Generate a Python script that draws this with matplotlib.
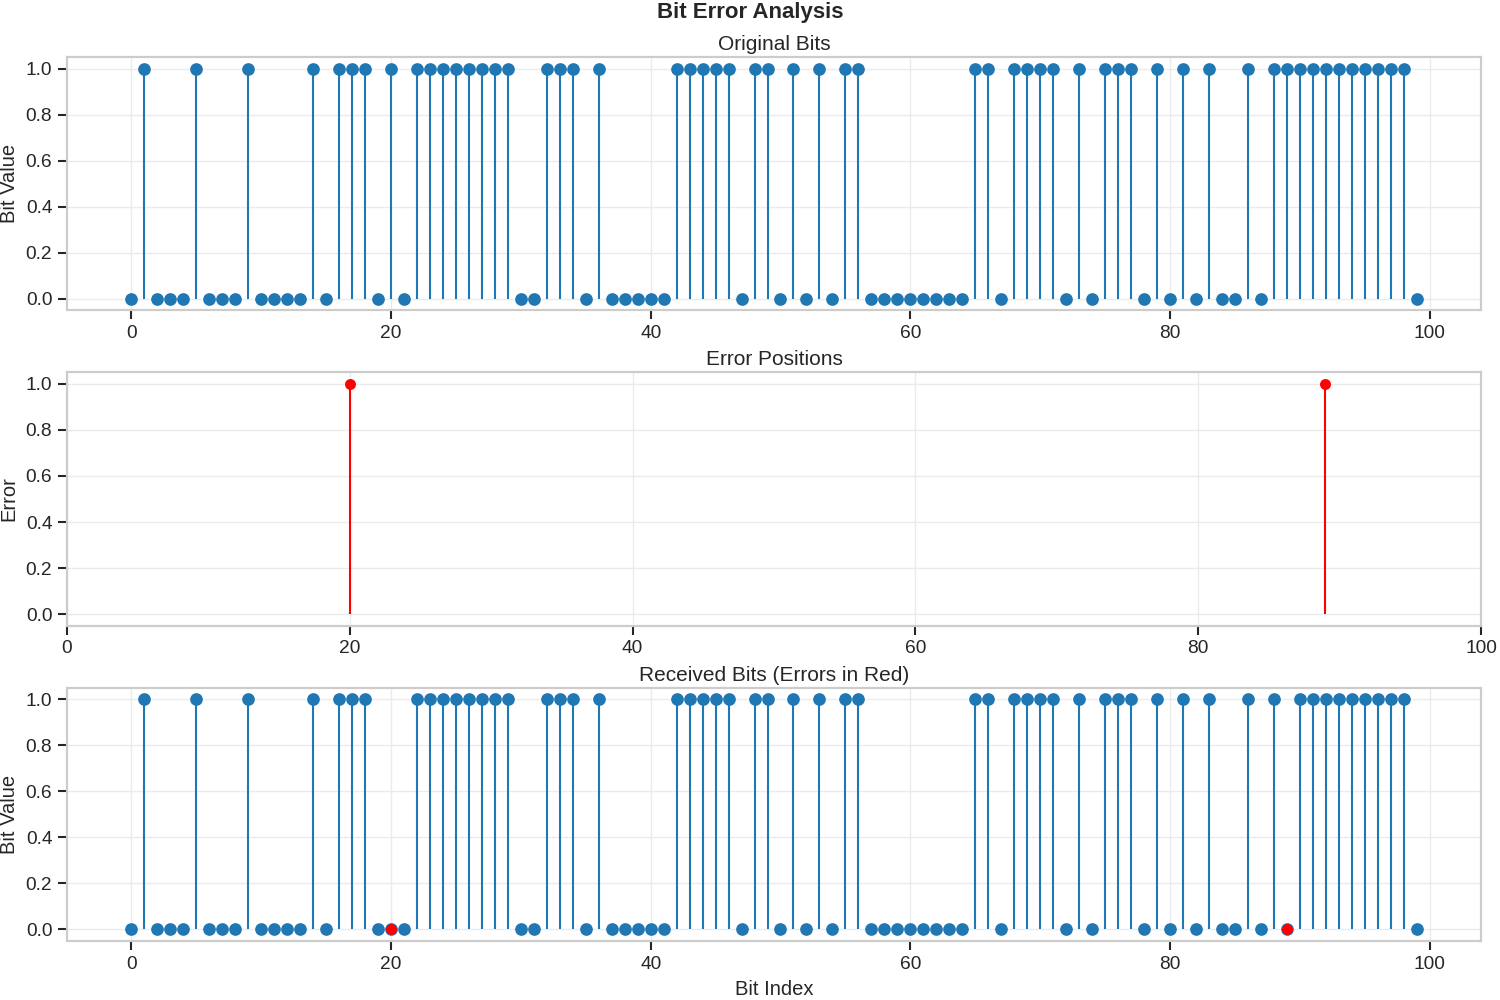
import matplotlib
matplotlib.use("Agg")
import matplotlib.pyplot as plt
import numpy as np

# ---- data ----
original_bits = [0, 1, 0, 0, 0, 1, 0, 0, 0, 1,
                 0, 0, 0, 0, 1, 0, 1, 1, 1, 0,
                 1, 0, 1, 1, 1, 1, 1, 1, 1, 1,
                 0, 0, 1, 1, 1, 0, 1, 0, 0, 0,
                 0, 0, 1, 1, 1, 1, 1, 0, 1, 1,
                 0, 1, 0, 1, 0, 1, 1, 0, 0, 0,
                 0, 0, 0, 0, 0, 1, 1, 0, 1, 1,
                 1, 1, 0, 1, 0, 1, 1, 1, 0, 1,
                 0, 1, 0, 1, 0, 0, 1, 0, 1, 1,
                 1, 1, 1, 1, 1, 1, 1, 1, 1, 0]
error_positions = [20, 89]
error_values = [1, 1]

original = np.array(original_bits)
received = original.copy()
received[error_positions] = 1 - received[error_positions]
indices = np.arange(len(original))

plt.rcParams.update({
    "font.family": ["Liberation Sans", "DejaVu Sans"],
    "axes.edgecolor": "#cccccc",
    "axes.linewidth": 1.25,
    "axes.labelcolor": "#262626",
    "axes.labelsize": 11.6,
    "axes.titlesize": 12,
    "xtick.labelsize": 11,
    "ytick.labelsize": 11,
    "xtick.color": "#262626",
    "ytick.color": "#262626",
    "text.color": "#262626",
    "xtick.major.size": 5,
    "ytick.major.size": 5,
    "xtick.major.width": 1.2,
    "ytick.major.width": 1.2,
    "grid.color": "#ebebeb",
    "grid.linewidth": 0.8,
})

fig, axes = plt.subplots(3, 1, figsize=(12, 8), dpi=125)
fig.subplots_adjust(left=0.0447, right=0.9873, top=0.943, bottom=0.059, hspace=0.245)
blue = "#1f77b4"

# Original bits
ax = axes[0]
ml, sl, bl = ax.stem(indices, original, basefmt=" ")
plt.setp(sl, linewidth=1.2, color=blue)
plt.setp(ml, color=blue, markersize=6.3)
ax.set_title("Original Bits", pad=4)
ax.set_ylabel("Bit Value")
ax.grid(True)

# Error positions
ax = axes[1]
ml, sl, bl = ax.stem(error_positions, error_values, linefmt="r-", markerfmt="ro", basefmt=" ")
plt.setp(sl, linewidth=1.2)
plt.setp(ml, markersize=5.3)
ax.set_title("Error Positions", pad=4)
ax.set_ylabel("Error")
ax.set_xlim(0, len(original))
ax.grid(True)

# Received bits
ax = axes[2]
ml, sl, bl = ax.stem(indices, received, basefmt=" ")
plt.setp(sl, linewidth=1.2, color=blue)
plt.setp(ml, color=blue, markersize=6.3)
ax.plot(error_positions, received[error_positions], "ro", markersize=5.3)
ax.set_title("Received Bits (Errors in Red)", pad=4)
ax.set_ylabel("Bit Value")
ax.set_xlabel("Bit Index")
ax.grid(True)

fig.suptitle("Bit Error Analysis", fontweight="bold", fontsize=12.8, y=0.998, va="top")
fig.savefig("out.png", dpi=125)
